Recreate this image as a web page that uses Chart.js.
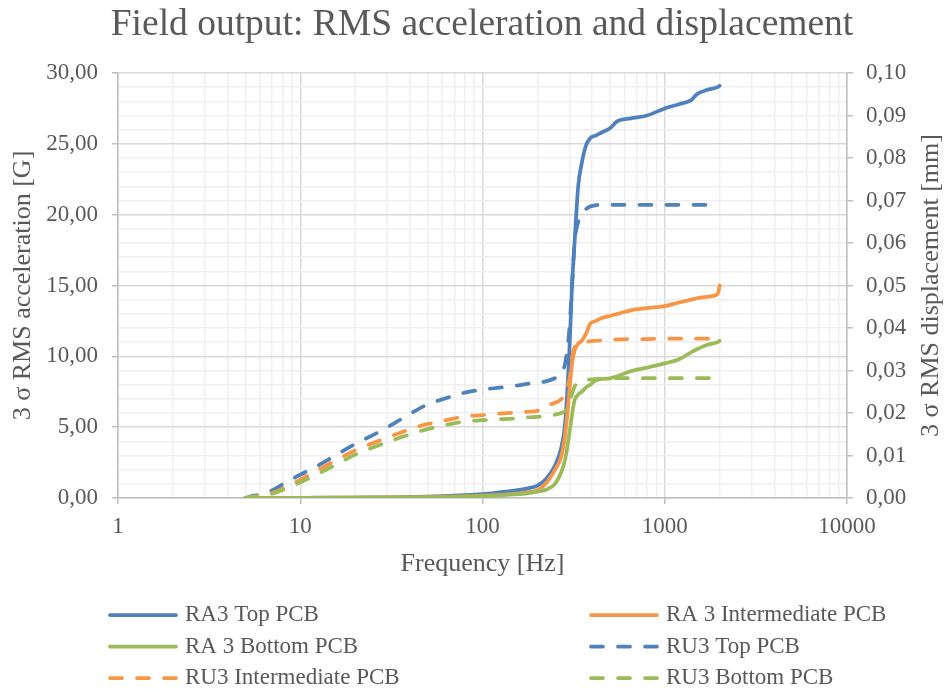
<!DOCTYPE html>
<html>
<head>
<meta charset="utf-8">
<title>Field output: RMS acceleration and displacement</title>
<script src="https://cdn.jsdelivr.net/npm/chart.js@4.4.1/dist/chart.umd.min.js"></script>
<style>
  html, body { margin: 0; padding: 0; background: #ffffff; }
  #wrap { width: 946px; height: 689px; }
</style>
</head>
<body>
<div id="wrap"><canvas id="fieldChart" width="946" height="689"></canvas></div>
<script>
// frequency points [Hz], shared by every series
const freqHz = [5, 5.5, 6, 7, 8, 10, 12, 15, 20, 25, 30, 40, 50, 60, 80, 100, 120, 150, 180, 200,
  225, 250, 270, 285, 300, 310, 320, 335, 350, 370, 390, 420, 450, 500, 550, 650, 800, 1000,
  1200, 1400, 1500, 1700, 1950, 2000];

// 3 sigma RMS acceleration [G] (left axis)
const raTop = [0, 0, 0, 0, 0.01, 0.01, 0.02, 0.02, 0.03, 0.04, 0.05, 0.08, 0.1, 0.13, 0.2, 0.28, 0.38, 0.52, 0.7, 0.87,
  1.4, 2.3, 3.5, 5.5, 10.5, 15, 18, 22, 23.6, 24.9, 25.4, 25.6, 25.8, 26.1, 26.6, 26.8, 27.0, 27.5,
  27.8, 28.1, 28.5, 28.8, 29.0, 29.1];
const raIntermediate = [0, 0, 0, 0, 0, 0.01, 0.01, 0.02, 0.02, 0.03, 0.04, 0.05, 0.07, 0.09, 0.12, 0.16, 0.21, 0.3, 0.42, 0.55,
  1.1, 2.0, 2.9, 4.6, 7.6, 9.5, 10.4, 10.9, 11.1, 11.6, 12.3, 12.5, 12.7, 12.85, 13.0, 13.25, 13.4, 13.55,
  13.8, 14.0, 14.1, 14.2, 14.4, 15.0];
const raBottom = [0, 0, 0, 0, 0, 0.01, 0.01, 0.01, 0.02, 0.02, 0.03, 0.04, 0.06, 0.07, 0.1, 0.13, 0.17, 0.25, 0.35, 0.45,
  0.6, 1.0, 1.8, 2.8, 4.6, 5.9, 6.9, 7.3, 7.5, 7.8, 8.0, 8.3, 8.4, 8.45, 8.6, 8.95, 9.2, 9.5,
  9.8, 10.3, 10.5, 10.8, 11.0, 11.1];

// 3 sigma RMS displacement [mm] (right axis)
const ruTop = [0, 0.0005, 0.0008, 0.0018, 0.0032, 0.0055, 0.0072, 0.0096, 0.0127, 0.0148, 0.0166, 0.0198, 0.022, 0.0232, 0.0248, 0.0255, 0.0259, 0.0264, 0.0269, 0.0271,
  0.0275, 0.0282, 0.0292, 0.032, 0.04, 0.05, 0.06, 0.065, 0.0668, 0.068, 0.0686, 0.0689, 0.069, 0.069, 0.069, 0.069, 0.069, 0.069,
  0.069, 0.069, 0.069, 0.069, 0.069, 0.069];
const ruIntermediate = [0, 0.0003, 0.0006, 0.0012, 0.0022, 0.0043, 0.0062, 0.0084, 0.0112, 0.0129, 0.0142, 0.0162, 0.0174, 0.0181, 0.0192, 0.0195, 0.0198, 0.0201, 0.0203, 0.0205,
  0.0217, 0.0224, 0.0232, 0.0248, 0.028, 0.033, 0.0355, 0.0362, 0.0365, 0.0367, 0.0369, 0.037, 0.0371, 0.0372, 0.0373, 0.0374, 0.0374, 0.0375,
  0.0375, 0.0375, 0.0375, 0.0375, 0.0375, 0.0375];
const ruBottom = [0, 0.0003, 0.0005, 0.001, 0.0019, 0.0037, 0.0053, 0.0074, 0.0102, 0.0119, 0.0131, 0.015, 0.0162, 0.017, 0.018, 0.0183, 0.0185, 0.0187, 0.019, 0.0191,
  0.0193, 0.0196, 0.02, 0.0205, 0.0225, 0.0245, 0.0262, 0.0271, 0.0274, 0.0277, 0.0279, 0.028, 0.0281, 0.0282, 0.0282, 0.0282, 0.0282, 0.0282,
  0.0282, 0.0282, 0.0282, 0.0282, 0.0282, 0.0282];

const seriesNames = ["RA3 Top PCB", "RA 3 Intermediate PCB", "RA 3 Bottom PCB",
  "RU3 Top PCB", "RU3 Intermediate PCB", "RU3 Bottom PCB"];
const seriesValues = [raTop, raIntermediate, raBottom, ruTop, ruIntermediate, ruBottom];
const seriesColors = ["#4f81bd", "#f79646", "#9bbb59", "#4f81bd", "#f79646", "#9bbb59"];

const xDecades = [1, 10, 100, 1000, 10000];
const chartTitle = "Field output: RMS acceleration and displacement";

const FONT = "'Liberation Serif', 'Times New Roman', serif";
const TEXT = "#595959";
Chart.defaults.font.family = FONT;
Chart.defaults.color = TEXT;

function isDecade(v) {
  const l = Math.log10(v);
  return Math.abs(l - Math.round(l)) < 1e-9;
}
function comma(v) {
  return v.toFixed(2).replace(".", ",");
}

const datasets = seriesNames.map((name, i) => {
  const dashed = i >= 3;
  return {
    label: name,
    data: freqHz.map((f, k) => ({ x: f, y: seriesValues[i][k] })),
    yAxisID: dashed ? "yDisp" : "yAcc",
    borderColor: seriesColors[i],
    backgroundColor: seriesColors[i],
    borderWidth: 3.75,
    borderDash: dashed ? [12, 15] : [],
    borderCapStyle: "round",
    borderJoinStyle: "round",
    pointRadius: 0,
    cubicInterpolationMode: "monotone",
    fill: false,
    order: 6 - i
  };
});

// title, right axis title (read bottom-to-top) and the two-column legend
const extrasPlugin = {
  id: "extras",
  afterDraw(chart) {
    const ctx = chart.ctx;
    const area = chart.chartArea;

    ctx.save();
    ctx.fillStyle = TEXT;
    ctx.font = "37.5px " + FONT;
    ctx.textAlign = "center";
    ctx.textBaseline = "middle";
    ctx.fillText(chartTitle, 482, 25);
    ctx.restore();

    ctx.save();
    ctx.fillStyle = TEXT;
    ctx.font = "26px " + FONT;
    ctx.textAlign = "center";
    ctx.textBaseline = "middle";
    ctx.translate(931, (area.top + area.bottom) / 2);
    ctx.rotate(-Math.PI / 2);
    ctx.fillText("3 σ RMS displacement [mm]", 0, 0);
    ctx.restore();

    ctx.save();
    chart.data.datasets.forEach((ds, i) => {
      const col = i % 2;
      const row = Math.floor(i / 2);
      const x0 = col === 0 ? 108 : 589;
      const y = 615 + row * 31.5;
      ctx.strokeStyle = ds.borderColor;
      ctx.lineWidth = ds.borderWidth;
      ctx.lineCap = "round";
      ctx.setLineDash(ds.borderDash);
      ctx.beginPath();
      ctx.moveTo(x0 + 2, y);
      ctx.lineTo(x0 + 68, y);
      ctx.stroke();
      ctx.setLineDash([]);
      ctx.fillStyle = TEXT;
      ctx.font = "23px " + FONT;
      ctx.textAlign = "left";
      ctx.textBaseline = "middle";
      ctx.fillText(ds.label, x0 + 77, y);
    });
    ctx.restore();
  }
};

const ctx = document.getElementById("fieldChart").getContext("2d");
new Chart(ctx, {
  type: "line",
  data: { datasets },
  plugins: [extrasPlugin],
  options: {
    responsive: false,
    animation: false,
    devicePixelRatio: 1,
    layout: { padding: { left: 0, right: 0, top: 73, bottom: 110 } },
    plugins: {
      legend: { display: false },
      tooltip: { enabled: false },
      title: { display: false }
    },
    scales: {
      x: {
        type: "logarithmic",
        min: 1,
        max: 10000,
        afterBuildTicks: s => {
          const t = [];
          xDecades.forEach(d => {
            if (d === 10000) { t.push({ value: d }); return; }
            for (let m = 1; m <= 9; m++) t.push({ value: d * m });
          });
          s.ticks = t;
        },
        afterFit: s => { s.height = 81; },
        border: { color: "#bfbfbf", width: 1.5 },
        grid: {
          color: c => isDecade(c.tick.value) ? "#d9d9d9" : "#efefef",
          lineWidth: 1.5,
          tickLength: 6,
          tickColor: c => isDecade(c.tick.value) ? "#bfbfbf" : "rgba(0,0,0,0)"
        },
        ticks: {
          autoSkip: false,
          maxRotation: 0,
          padding: 9,
          font: { size: 23 },
          color: TEXT,
          callback: v => isDecade(v) ? String(v) : ""
        },
        title: {
          display: true,
          text: "Frequency [Hz]",
          font: { size: 26 },
          color: TEXT,
          padding: { top: 0, bottom: -1 }
        }
      },
      yAcc: {
        type: "linear",
        position: "left",
        min: 0,
        max: 30,
        afterFit: s => { s.width = 118; },
        border: { color: "#bfbfbf", width: 1.5 },
        grid: {
          color: c => c.tick.value % 5 === 0 ? "#d9d9d9" : "#efefef",
          lineWidth: 1.5,
          tickLength: 6,
          tickColor: c => c.tick.value % 5 === 0 ? "#bfbfbf" : "rgba(0,0,0,0)"
        },
        ticks: {
          stepSize: 1,
          autoSkip: false,
          padding: 14,
          font: { size: 23 },
          color: TEXT,
          callback: v => v % 5 === 0 ? comma(v) : ""
        },
        title: {
          display: true,
          text: "3 σ RMS acceleration [G]",
          font: { size: 26 },
          color: TEXT,
          padding: { top: 7.5, bottom: 0 }
        }
      },
      yDisp: {
        type: "linear",
        position: "right",
        min: 0,
        max: 0.1,
        afterFit: s => { s.width = 99; },
        border: { color: "#bfbfbf", width: 1.5 },
        grid: {
          drawOnChartArea: false,
          tickLength: 6,
          lineWidth: 1.5,
          tickColor: "#bfbfbf"
        },
        ticks: {
          stepSize: 0.01,
          autoSkip: false,
          padding: 13,
          font: { size: 23 },
          color: TEXT,
          callback: v => comma(v)
        }
      }
    }
  }
});
</script>
</body>
</html>
